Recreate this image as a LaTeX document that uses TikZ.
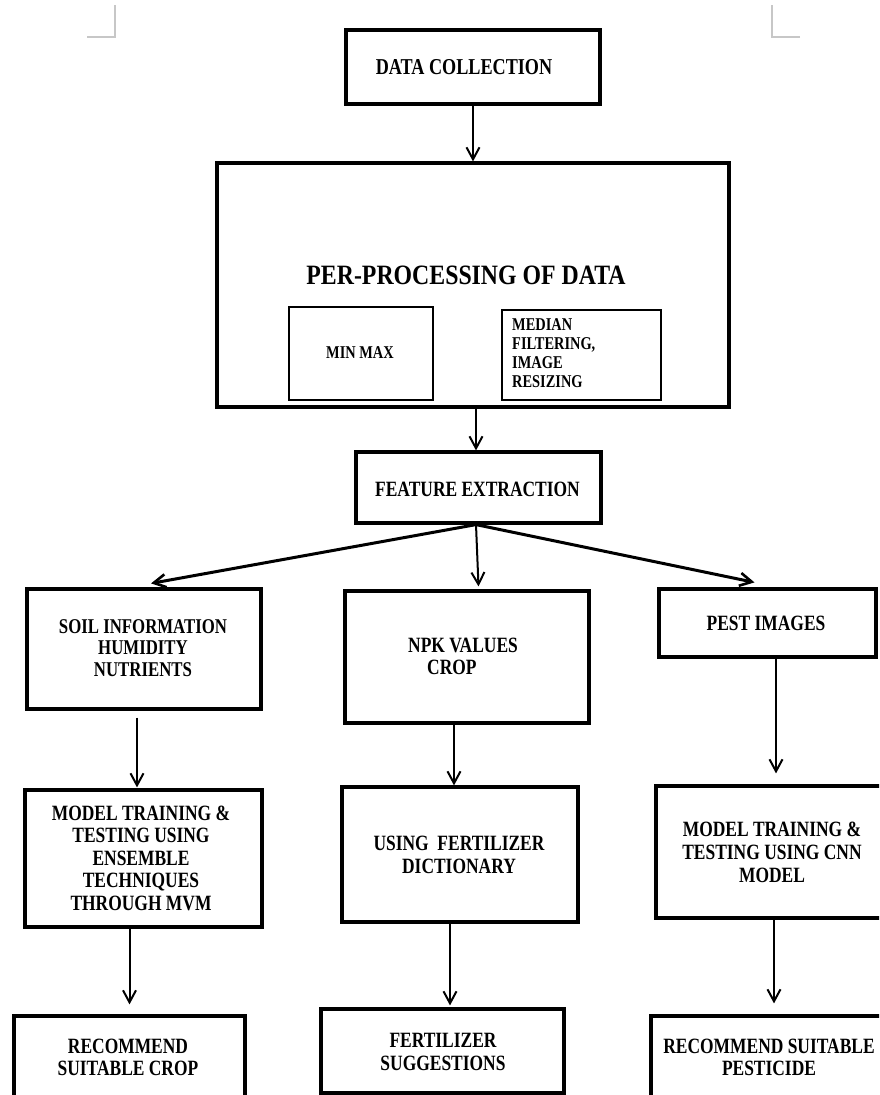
\documentclass[tikz,border=0pt]{standalone}
\usepackage{fontspec}
\setmainfont{Liberation Serif}[FakeStretch=0.8]
\newfontfamily\titlefont{Liberation Serif}[FakeStretch=0.85]
\usetikzlibrary{arrows.meta}
\begin{document}
\begin{tikzpicture}[x=1pt,y=-1pt,
  box/.style={draw=black, line width=3.2pt, fill=none, inner sep=0pt},
  txt/.style={inner sep=0pt, align=center, text=black, font=\bfseries\fontsize{21.8}{22.5}\selectfont},
  small/.style={inner sep=0pt, align=left, text=black, font=\bfseries\fontsize{18}{19}\selectfont},
  arr/.style={line width=2pt, -{Straight Barb[length=12pt,width=13pt,line width=2pt]}},
  darr/.style={line width=3pt, -{Straight Barb[length=12pt,width=13pt,line width=2.6pt]}},
  crop/.style={draw=black!22, line width=1.4pt}]
\useasboundingbox (0,0) rectangle (879,1095);
\fill[white] (0,0) rectangle (879,1095);
\clip (0,0) rectangle (879,1095);
% crop marks
\draw[crop] (87,37) -- (115,37) -- (115,5);
\draw[crop] (800,37) -- (772,37) -- (772,5);
% boxes
\node[box, minimum width=254pt, minimum height=74pt] (dc) at (473,67) {};
\node[txt, font=\bfseries\fontsize{22.7}{24}\selectfont] (dct) at (464,67) {DATA COLLECTION};
\node[box, minimum width=512pt, minimum height=244pt] (pp) at (473,285) {};
\node[txt, font=\titlefont\bfseries\fontsize{28}{30}\selectfont] (ppt) at (466,275) {PER-PROCESSING OF DATA};
\node[box, line width=2.8pt, minimum width=144pt, minimum height=93pt] (mm) at (361,353.5) {};
\node[small, align=center] (mmt) at (360,353) {MIN MAX};
\node[box, line width=2.8pt, minimum width=159pt, minimum height=90pt] (md) at (581.5,355) {};
\node[small, anchor=west] (mdt) at (512,353.5) {MEDIAN\\FILTERING,\\IMAGE\\RESIZING};
\node[box, minimum width=245pt, minimum height=71pt] (fe) at (478.5,487.5) {};
\node[txt] (fet) at (477.5,489) {FEATURE EXTRACTION};
\node[box, minimum width=234pt, minimum height=120pt] (soil) at (144,649) {};
\node[txt, font=\bfseries\fontsize{21}{21.5}\selectfont] (soilt) at (143,648) {SOIL INFORMATION\\HUMIDITY\\NUTRIENTS};
\node[box, minimum width=244pt, minimum height=132pt] (npk) at (467,657) {};
\node[txt, align=left, anchor=west, font=\bfseries\fontsize{21.8}{22}\selectfont] (npkt) at (408,656) {NPK VALUES\\\hspace*{19pt}CROP};
\node[box, minimum width=217pt, minimum height=68pt] (pest) at (767.5,623) {};
\node[txt] (pestt) at (766,623) {PEST IMAGES};
\node[box, minimum width=237pt, minimum height=137pt] (m1) at (143.5,858.5) {};
\node[txt] (m1t) at (141,858) {MODEL TRAINING \&\\TESTING USING\\ENSEMBLE\\TECHNIQUES\\THROUGH MVM};
\node[box, minimum width=236pt, minimum height=135pt] (uf) at (460,854.5) {};
\node[txt, font=\bfseries\fontsize{21.8}{23}\selectfont] (uft) at (459,854.5) {USING\ \ FERTILIZER\\DICTIONARY};
\node[box, minimum width=244pt, minimum height=132pt] (m2) at (778,852) {};
\node[txt, font=\bfseries\fontsize{21.8}{23}\selectfont] (m2t) at (772,852) {MODEL TRAINING \&\\TESTING USING CNN\\MODEL};
\node[box, minimum width=231pt, minimum height=124pt] (r1) at (129.5,1078) {};
\node[txt, font=\bfseries\fontsize{21.8}{22}\selectfont] (r1t) at (128,1057) {RECOMMEND\\SUITABLE CROP};
\node[box, minimum width=243pt, minimum height=84pt] (fs) at (442.5,1051) {};
\node[txt, font=\bfseries\fontsize{21.8}{23}\selectfont] (fst) at (443,1051.5) {FERTILIZER\\SUGGESTIONS};
\node[box, minimum width=249pt, minimum height=124pt] (r2) at (775.5,1078) {};
\node[txt, font=\bfseries\fontsize{21.8}{22}\selectfont] (r2t) at (769,1057) {RECOMMEND SUITABLE\\PESTICIDE};
% connectors
\draw[arr] (dc.south) -- (pp.north);
\draw[arr] ([xshift=-2.5pt]pp.south -| fe.north) -- ([xshift=-2.5pt]fe.north);
\draw[darr] ([xshift=-2.5pt]fe.south) -- ([xshift=7pt,yshift=4pt]soil.north);
\draw[arr] ([xshift=-2.5pt]fe.south) -- ([yshift=3pt]fe.south |- npk.north);
\draw[darr] ([xshift=-2.5pt]fe.south) -- ([xshift=-13pt,yshift=5pt]pest.north);
\draw[arr] ([xshift=-7pt,yshift=-7pt]soil.south) -- ([xshift=-7pt,yshift=1pt]soil.south |- m1.north);
\draw[arr] ([xshift=-13pt]npk.south) -- ([xshift=-13pt]npk.south |- uf.north);
\draw[arr] ([xshift=8.5pt]pest.south) -- ([xshift=8.5pt,yshift=11pt]pest.south |- m2.north);
\draw[arr] (m1.south -| r1.north) -- ([yshift=10pt]r1.north);
\draw[arr] ([xshift=-10pt]uf.south) -- ([xshift=7.5pt,yshift=2pt]fs.north);
\draw[arr] ([xshift=-4pt]m2.south) -- ([xshift=-4pt,yshift=11pt]m2.south |- r2.north);
\end{tikzpicture}
\end{document}
